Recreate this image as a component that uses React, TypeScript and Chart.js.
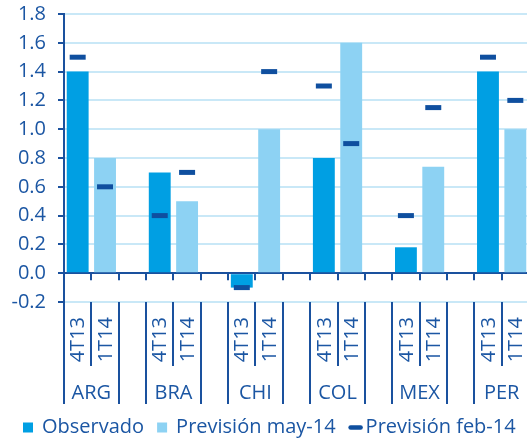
import React, { useEffect, useRef } from 'react';
import { Chart, registerables } from 'chart.js';

Chart.register(...registerables);

// Countries and the two quarters shown for each of them
const countries = ['ARG', 'BRA', 'CHI', 'COL', 'MEX', 'PER'];
const periods = ['4T13', '1T14'];

// Observed growth in 4T13 and May-14 forecast for 1T14 (% q/q)
const observado = [1.4, 0.7, -0.1, 0.8, 0.18, 1.4];
const prevMay14 = [0.8, 0.5, 1.0, 1.6, 0.74, 1.0];

// February-14 forecasts for each quarter
const prevFeb14_4T13 = [1.5, 0.4, -0.1, 1.3, 0.4, 1.5];
const prevFeb14_1T14 = [0.6, 0.7, 1.4, 0.9, 1.15, 1.2];

const yMin = -0.2;
const yMax = 1.8;
const yStep = 0.2;

const legendLabels = ['Observado', 'Previsión may-14', 'Previsión feb-14'];

const COLOR_OBS = '#009FE3';
const COLOR_MAY = '#8DD2F3';
const COLOR_FEB = '#0F4F9F';
const COLOR_TEXT = '#1B56A3';
const COLOR_AXIS = '#1A519E';
const COLOR_GRID = '#C9E8F7';
const FONT = '"Open Sans", "Noto Sans", sans-serif';

// Slot layout: two quarters per country, separated by an empty slot
const slotLabels: string[] = [];
countries.forEach((_, i) => {
  slotLabels.push(periods[0], periods[1]);
  if (i < countries.length - 1) slotLabels.push('');
});

const obsData: (number | null)[] = slotLabels.map(() => null);
const mayData: (number | null)[] = slotLabels.map(() => null);
const febData: (number | null)[] = slotLabels.map(() => null);
countries.forEach((_, i) => {
  obsData[3 * i] = observado[i];
  mayData[3 * i + 1] = prevMay14[i];
  febData[3 * i] = prevFeb14_4T13[i];
  febData[3 * i + 1] = prevFeb14_1T14[i];
});

const axisLabelsPlugin = {
  id: 'axisLabels',
  afterDraw(chart: any) {
    const { ctx, chartArea } = chart;
    const x = chart.scales.x;
    const y = chart.scales.y;
    const w = x.getPixelForValue(1) - x.getPixelForValue(0);
    const first = x.getPixelForValue(0) - w / 2;
    const boundary = (k: number) => first + k * w;
    const zeroY = y.getPixelForValue(0);
    const bottom = chartArea.bottom;

    ctx.save();
    ctx.strokeStyle = COLOR_AXIS;
    ctx.lineWidth = 2;

    // small ticks under the zero line at every slot boundary
    for (let k = 1; k <= slotLabels.length; k++) {
      const bx = Math.round(boundary(k));
      ctx.beginPath();
      ctx.moveTo(bx, zeroY);
      ctx.lineTo(bx, zeroY + 7);
      ctx.stroke();
    }

    // separators of the two-level category axis
    countries.forEach((_, i) => {
      const left = Math.round(boundary(3 * i));
      const mid = Math.round(boundary(3 * i + 1));
      const right = Math.round(boundary(3 * i + 2));
      ctx.beginPath();
      ctx.moveTo(left, bottom);
      ctx.lineTo(left, bottom + 102);
      ctx.moveTo(right, bottom);
      ctx.lineTo(right, bottom + 102);
      ctx.moveTo(mid, bottom);
      ctx.lineTo(mid, bottom + 64);
      ctx.stroke();
    });

    ctx.fillStyle = COLOR_TEXT;
    ctx.font = `20px ${FONT}`;

    // rotated quarter labels
    slotLabels.forEach((lab, k) => {
      if (!lab) return;
      const cx = x.getPixelForValue(k);
      ctx.save();
      ctx.translate(cx + 1, bottom + 15);
      ctx.rotate(-Math.PI / 2);
      ctx.textAlign = 'right';
      ctx.textBaseline = 'middle';
      ctx.fillText(lab, 0, 0);
      ctx.restore();
    });

    // country labels
    ctx.textAlign = 'center';
    ctx.textBaseline = 'middle';
    countries.forEach((c, i) => {
      const cx = boundary(3 * i + 1);
      ctx.fillText(c, cx, bottom + 91);
    });

    // legend
    const ly = 427.5;
    let lx = 23;
    ctx.textAlign = 'left';
    legendLabels.forEach((lab, i) => {
      if (i === 2) {
        ctx.strokeStyle = COLOR_FEB;
        ctx.lineWidth = 4.5;
        ctx.lineCap = 'round';
        ctx.beginPath();
        ctx.moveTo(lx + 2, ly);
        ctx.lineTo(lx + 12, ly);
        ctx.stroke();
        lx += 17;
      } else {
        ctx.fillStyle = i === 0 ? COLOR_OBS : COLOR_MAY;
        ctx.fillRect(lx, ly - 5, 10, 10);
        lx += 19;
      }
      ctx.fillStyle = COLOR_TEXT;
      ctx.fillText(lab, lx, ly);
      lx += ctx.measureText(lab).width + 13;
    });

    ctx.restore();
  },
};

export default function App() {
  const ref = useRef<HTMLCanvasElement | null>(null);

  useEffect(() => {
    if (!ref.current) return;
    const chart = new Chart(ref.current, {
      type: 'bar',
      data: {
        labels: slotLabels,
        datasets: [
          {
            type: 'line',
            label: legendLabels[2],
            data: febData,
            showLine: false,
            pointStyle: 'line',
            pointRadius: 8,
            pointBorderWidth: 5,
            pointBorderColor: COLOR_FEB,
            pointBackgroundColor: COLOR_FEB,
            order: 0,
          } as any,
          {
            label: legendLabels[0],
            data: obsData,
            backgroundColor: COLOR_OBS,
            grouped: false,
            barPercentage: 0.8,
            categoryPercentage: 1,
            order: 1,
          },
          {
            label: legendLabels[1],
            data: mayData,
            backgroundColor: COLOR_MAY,
            grouped: false,
            barPercentage: 0.8,
            categoryPercentage: 1,
            order: 1,
          },
        ],
      },
      options: {
        responsive: false,
        animation: false,
        events: [],
        layout: { autoPadding: false, padding: { left: 0, top: 14, right: 1, bottom: 139 } },
        plugins: {
          legend: { display: false },
          tooltip: { enabled: false },
        },
        scales: {
          x: {
            display: false,
            offset: true,
          },
          y: {
            min: yMin,
            max: yMax,
            afterFit: (scale: any) => {
              scale.width = 64;
              scale.paddingTop = 0;
              scale.paddingBottom = 0;
            },
            border: { color: COLOR_AXIS, width: 2 },
            grid: {
              color: (c: any) => (c.tick && Math.abs(c.tick.value) < 1e-9 ? COLOR_AXIS : COLOR_GRID),
              lineWidth: 2,
              tickColor: COLOR_AXIS,
              tickLength: 6,
              tickWidth: 2,
            },
            ticks: {
              stepSize: yStep,
              padding: 12,
              color: COLOR_TEXT,
              font: { family: FONT, size: 20 },
              callback: (v: any) => Number(v).toFixed(1),
            },
          },
        },
      },
      plugins: [axisLabelsPlugin],
    });
    return () => chart.destroy();
  }, []);

  return (
    <div style={{ position: 'fixed', left: 0, top: 0, width: 530, height: 441, background: '#fff' }}>
      <canvas ref={ref} width={530} height={441} style={{ width: 530, height: 441 }} />
    </div>
  );
}
